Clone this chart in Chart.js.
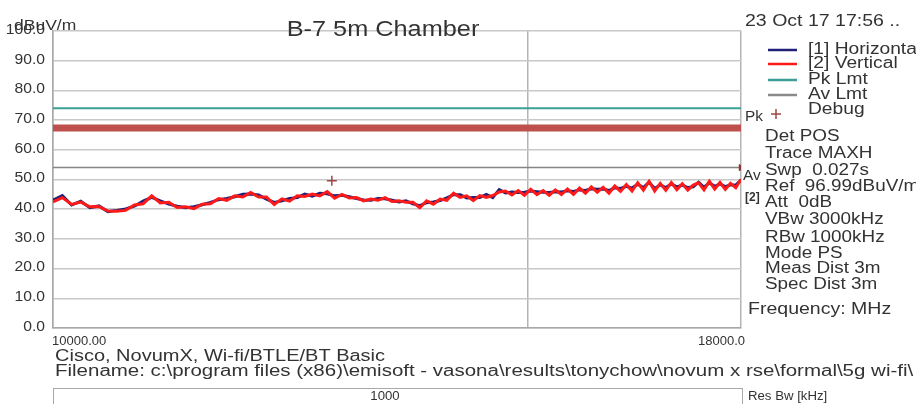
<!DOCTYPE html>
<html>
<head>
<meta charset="utf-8">
<title>B-7 5m Chamber</title>
<script src="https://cdn.jsdelivr.net/npm/chart.js@4/dist/chart.umd.min.js"></script>
<style>
  html, body { margin: 0; padding: 0; background: #ffffff; }
  #wrap { width: 916px; height: 404px; position: relative; }
</style>
</head>
<body>
<div id="wrap"><canvas id="emiChart" width="916" height="404"></canvas></div>
<script>
// ---- data ----
const FREQ_MHZ = [
  10000, 10080, 10160, 10240, 10320, 10400, 10480, 10560, 10640, 10720,
  10800, 10880, 10960, 11040, 11120, 11200, 11280, 11360, 11440, 11520,
  11600, 11680, 11760, 11840, 11920, 12000, 12080, 12160, 12240, 12320,
  12400, 12480, 12560, 12640, 12720, 12800, 12880, 12960, 13040, 13120,
  13200, 13280, 13360, 13440, 13520, 13600, 13680, 13760, 13840, 13920,
  14000, 14080, 14160, 14240, 14320, 14400, 14480, 14560, 14640, 14720,
  14800, 14880, 14960, 15040, 15120, 15200, 15280, 15360, 15440, 15520,
  15600, 15680, 15760, 15840, 15920, 16000, 16080, 16160, 16240, 16320,
  16400, 16480, 16560, 16640, 16720, 16800, 16880, 16960, 17040, 17120,
  17200, 17280, 17360, 17440, 17520, 17600, 17680, 17760, 17840, 17920,
  18000
];

// [1] Horizontal (dBuV/m)
const HORIZONTAL = [
  43.0, 44.6, 41.4, 42.7, 40.5, 41.1, 39.2, 39.6, 40.1, 41.0,
  42.7, 44.0, 42.8, 41.7, 41.0, 40.5, 40.8, 41.5, 42.3, 43.2,
  43.6, 44.2, 45.0, 45.1, 44.8, 43.4, 42.3, 42.8, 43.6, 43.9,
  45.1, 44.4, 45.4, 45.2, 44.5, 44.7, 44.2, 43.6, 43.1, 43.0,
  43.6, 43.5, 43.0, 42.4, 42.8, 41.8, 41.2, 42.2, 42.4, 42.9,
  43.8, 44.9, 44.9, 43.8, 43.9, 43.9, 45.0, 43.9, 46.6, 45.5,
  45.8, 45.6, 45.7, 46.1, 45.9, 45.7, 45.6, 45.9, 45.8, 46.2,
  46.0, 46.5, 46.3, 46.9, 46.7, 46.8, 46.3, 47.2, 47.0, 47.7,
  47.1, 48.4, 47.3, 49.1, 47.0, 48.2, 47.3, 48.5, 47.5, 48.1,
  47.3, 47.5, 49.1, 47.4, 48.9, 47.7, 48.5, 47.6, 48.2, 48.1,
  49.8
];

// [2] Vertical (dBuV/m)
const VERTICAL = [
  42.5, 43.9, 41.6, 42.4, 40.8, 40.9, 39.4, 39.3, 39.6, 41.4,
  41.8, 44.5, 42.1, 42.3, 40.6, 40.8, 40.2, 41.7, 41.8, 43.6,
  43.0, 44.5, 44.1, 45.6, 44.1, 44.1, 41.6, 43.5, 42.7, 44.5,
  44.3, 45.1, 44.5, 45.9, 43.7, 45.0, 43.8, 43.9, 42.8, 43.4,
  43.0, 43.9, 42.6, 42.8, 42.3, 42.3, 40.5, 42.8, 41.7, 43.4,
  43.0, 45.4, 44.0, 44.5, 42.9, 44.6, 44.0, 44.6, 45.8, 46.1,
  44.8, 46.3, 44.7, 46.7, 44.9, 46.3, 44.7, 46.5, 44.9, 46.8,
  45.0, 47.1, 45.4, 47.5, 45.7, 47.4, 45.4, 47.8, 46.0, 48.3,
  46.1, 48.9, 46.4, 49.4, 46.1, 48.7, 46.4, 49.0, 46.6, 48.6,
  46.4, 48.1, 48.9, 46.5, 49.4, 46.8, 49.0, 46.7, 48.7, 47.2,
  50.1
];

const PK_LIMIT = 74;        // Pk Lmt
const AV_LIMIT = 54;        // Av Lmt
const MARKED_LEVEL = 67.3;  // red highlight bar drawn over the plot
const DEBUG_MARK = [12690, 49.6];

const Y_TICKS = [0, 10, 20, 30, 40, 50, 60, 70, 80, 90, 100];
const X_GRID = [10000, 15000, 18000];
const X_LABELS = ['10000.00', '18000.0'];

// ---- helpers ----
const FONT = '"Liberation Sans", Arial, sans-serif';

function txt(ctx, s, x, y, size, o) {
    o = o || {};
    ctx.save();
    ctx.font = (o.bold ? 'bold ' : '') + size + 'px ' + FONT;
    ctx.fillStyle = o.color || '#333333';
    ctx.textBaseline = 'middle';
    ctx.textAlign = o.align || 'left';
    ctx.translate(x, y);
    ctx.scale(o.sx || 1.2, 1);
    ctx.fillText(s, 0, 0);
    ctx.restore();
}

function flat(level) {
    return [{ x: FREQ_MHZ[0], y: level }, { x: FREQ_MHZ[FREQ_MHZ.length - 1], y: level }];
}

// all the text of the analyser screen
const screenText = {
    id: 'screenText',
    afterDraw(chart) {
        const ctx = chart.ctx;
        const ys = chart.scales.y;
        const xs = chart.scales.x;
        const area = chart.chartArea;

        // y tick labels
        ys.ticks.forEach(t => {
            txt(ctx, t.value.toFixed(1), area.left - 8, ys.getPixelForValue(t.value) - 1, 14, { align: 'right', sx: 1.12 });
        });
        txt(ctx, 'dBuV/m', 14, 26, 14, { sx: 1.25 });

        // x end labels
        txt(ctx, X_LABELS[0], xs.getPixelForValue(FREQ_MHZ[0]) - 1, area.bottom + 13, 13, { sx: 1.0 });
        txt(ctx, X_LABELS[1], xs.getPixelForValue(FREQ_MHZ[FREQ_MHZ.length - 1]) + 4, area.bottom + 13, 13, { align: 'right', sx: 1.0 });

        // title
        txt(ctx, 'B-7 5m Chamber', 383, 30, 22, { align: 'center', sx: 1.15 });

        // right panel
        const px = area.right;
        txt(ctx, '23 Oct 17 17:56 ..', px + 4, 22, 16, { sx: 1.22 });

        const legend = [
            ['[1] Horizontal', '#202078', 50],
            ['[2] Vertical', '#ff1a1a', 64],
            ['Pk Lmt', '#3a9f97', 80],
            ['Av Lmt', '#8a8a8a', 95]
        ];
        legend.forEach(([label, col, y]) => {
            ctx.save();
            ctx.strokeStyle = col;
            ctx.lineWidth = 2.5;
            ctx.beginPath();
            ctx.moveTo(768, y);
            ctx.lineTo(797, y);
            ctx.stroke();
            ctx.restore();
            txt(ctx, label, 808, y, 16, { sx: 1.2 });
        });
        txt(ctx, 'Debug', 808, 110, 16, { sx: 1.2 });
        // debug legend marker
        ctx.save();
        ctx.strokeStyle = '#a04545';
        ctx.lineWidth = 1.5;
        ctx.beginPath();
        ctx.moveTo(771, 114); ctx.lineTo(781, 114);
        ctx.moveTo(776, 109); ctx.lineTo(776, 119);
        ctx.stroke();
        ctx.restore();
        txt(ctx, 'Pk', px + 4, 117, 14, { sx: 1.1 });
        txt(ctx, 'Av', px + 2, 176, 14, { sx: 1.1 });
        txt(ctx, '[2]', px + 4, 198, 12, { bold: true, sx: 1.0 });

        const info = [
            ['Det POS', 137],
            ['Trace MAXH', 154],
            ['Swp  0.027s', 171],
            ['Ref  96.99dBuV/m', 187],
            ['Att  0dB', 203],
            ['VBw 3000kHz', 220],
            ['RBw 1000kHz', 238],
            ['Mode PS', 254],
            ['Meas Dist 3m', 269],
            ['Spec Dist 3m', 285]
        ];
        info.forEach(([s, y]) => txt(ctx, s, 765, y, 16, { sx: 1.18 }));
        txt(ctx, 'Frequency: MHz', 748, 310, 16, { sx: 1.22 });

        // footer
        txt(ctx, 'Cisco, NovumX, Wi-fi/BTLE/BT Basic', 55, 357, 16, { sx: 1.25 });
        txt(ctx, 'Filename: c:\\program files (x86)\\emisoft - vasona\\results\\tonychow\\novum x rse\\formal\\5g wi-fi\\', 55, 372, 16, { sx: 1.28 });

        ctx.save();
        ctx.strokeStyle = '#a8a8a8';
        ctx.lineWidth = 1;
        ctx.strokeRect(53.5, 388.5, 689, 30);
        ctx.restore();
        txt(ctx, '1000', 385, 397, 12, { align: 'center', sx: 1.1 });
        txt(ctx, 'Res Bw [kHz]', 748, 397, 12, { sx: 1.1 });
    }
};

const ctxChart = document.getElementById('emiChart');

new Chart(ctxChart, {
    type: 'line',
    data: {
        datasets: [
            {
                label: 'Marked level',
                data: flat(MARKED_LEVEL),
                borderColor: '#c0504d',
                borderWidth: 7,
                pointRadius: 0,
                order: 0
            },
            {
                label: '[2] Vertical',
                data: FREQ_MHZ.map((f, i) => ({ x: f, y: VERTICAL[i] })),
                borderColor: '#ff1a1a',
                borderWidth: 3,
                pointRadius: 0,
                tension: 0,
                order: 1
            },
            {
                label: '[1] Horizontal',
                data: FREQ_MHZ.map((f, i) => ({ x: f, y: HORIZONTAL[i] })),
                borderColor: '#202078',
                borderWidth: 3,
                pointRadius: 0,
                tension: 0,
                order: 2
            },
            {
                label: 'Pk Lmt',
                data: flat(PK_LIMIT),
                borderColor: '#3a9f97',
                borderWidth: 2,
                pointRadius: 0,
                order: 3
            },
            {
                label: 'Av Lmt',
                data: flat(AV_LIMIT),
                borderColor: '#858585',
                borderWidth: 1.5,
                pointRadius: 0,
                order: 3
            },
            {
                label: 'Av marker',
                data: [{ x: FREQ_MHZ[FREQ_MHZ.length - 1], y: AV_LIMIT }],
                showLine: false,
                pointStyle: 'triangle',
                rotation: 90,
                pointRadius: 3.5,
                backgroundColor: '#8b3030',
                borderColor: '#8b3030',
                order: 0
            },
            {
                label: 'Debug',
                data: [{ x: DEBUG_MARK[0], y: DEBUG_MARK[1] }],
                showLine: false,
                pointStyle: 'cross',
                pointRadius: 5,
                borderWidth: 1.5,
                borderColor: '#a04545',
                order: 0
            }
        ]
    },
    options: {
        responsive: false,
        maintainAspectRatio: false,
        animation: false,
        devicePixelRatio: 1,
        layout: { padding: { left: 53, right: 175, top: 31, bottom: 76 } },
        plugins: {
            legend: { display: false },
            title: { display: false },
            tooltip: { enabled: false }
        },
        scales: {
            x: {
                type: 'logarithmic',
                min: FREQ_MHZ[0],
                max: FREQ_MHZ[FREQ_MHZ.length - 1],
                afterBuildTicks: s => { s.ticks = X_GRID.map(v => ({ value: v })); },
                ticks: { display: false },
                grid: { color: '#b4b4b4', lineWidth: 1.5, drawTicks: false },
                border: { display: true, color: '#a8a8a8', width: 1.5 }
            },
            y: {
                type: 'linear',
                min: 0,
                max: 100,
                afterBuildTicks: s => { s.ticks = Y_TICKS.map(v => ({ value: v })); },
                ticks: { display: false },
                grid: { color: '#c8c8c8', lineWidth: 1.5, drawTicks: false },
                border: { display: true, color: '#a8a8a8', width: 1.5 }
            }
        }
    },
    plugins: [screenText]
});
</script>
</body>
</html>
